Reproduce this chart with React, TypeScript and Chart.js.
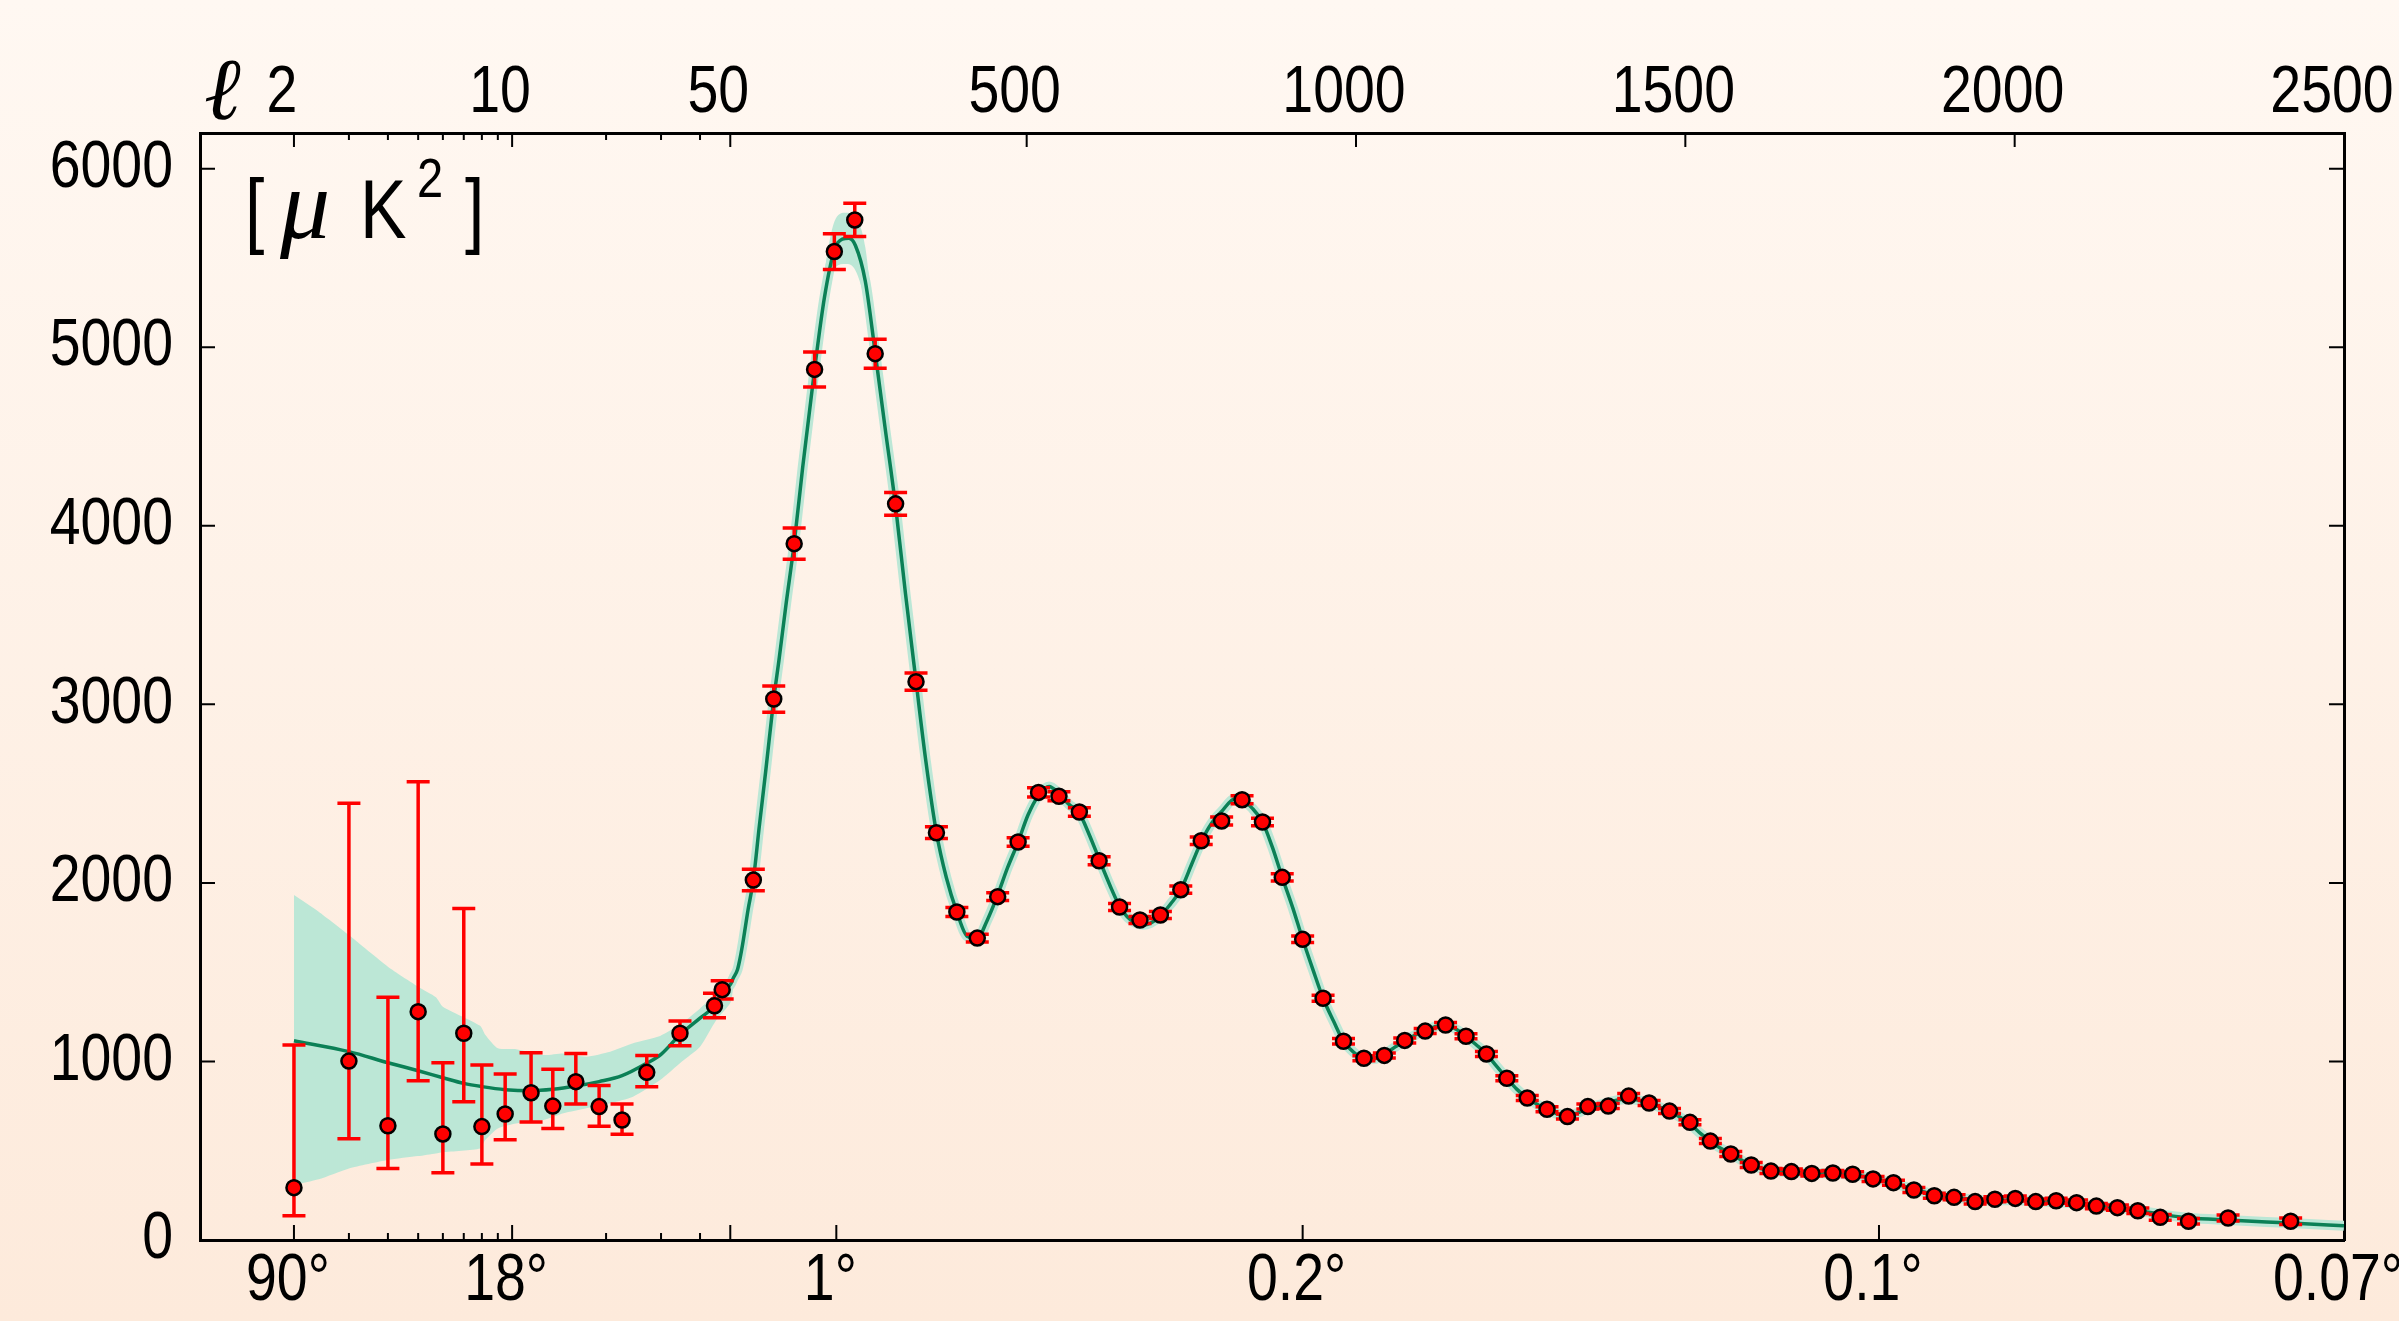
import React, { useEffect, useRef } from "react";
import { Chart, registerables } from "chart.js";

Chart.register(...registerables);

// ---------- axis mapping: log10 for ℓ ≤ 50, linear beyond ----------
const LIN_K = 0.0021103;
const u = (l: number) => (l <= 50 ? Math.log10(l) : Math.log10(50) + (l - 50) * LIN_K);
const ELL_MIN = 1;
const ELL_MAX = 2500;
const Y_MIN = 0;
const Y_MAX = 6200;

// ---------- tick definitions ----------
const topLabelEll = [2, 10, 50, 500, 1000, 1500, 2000, 2500];
const topLabels = ["2", "10", "50", "500", "1000", "1500", "2000", "2500"];
const topMajorEll = [2, 10, 50, 500, 1000, 1500, 2000];
const minorEll = [3, 4, 5, 6, 7, 8, 9, 20, 30, 40];
const bottomLabelEll = [2, 10, 211, 919, 1794, 2500];
const bottomLabels = ["90°", "18°", "1°", "0.2°", "0.1°", "0.07°"];
const bottomMajorEll = [2, 10, 50, 211, 919, 1794];
const yTicks = [0, 1000, 2000, 3000, 4000, 5000, 6000];

// ---------- measured band powers ----------
const dataEll = [
  2, 3, 4, 5, 6, 7, 8, 9.5, 11.5, 13.5, 16, 19, 22.5, 27, 34.5, 44.5, 47.1,
  85, 116, 147, 178, 208, 239, 270, 301, 332, 363, 394, 425, 456, 487, 518,
  549, 580, 610, 641, 672, 703, 734, 765, 796, 827, 858, 888, 919, 950, 981,
  1012, 1043, 1074, 1105, 1136, 1167, 1198, 1229, 1260, 1290, 1321, 1352,
  1383, 1414, 1445, 1476, 1507, 1538, 1569, 1600, 1630, 1661, 1692, 1724,
  1754, 1785, 1816, 1847, 1878, 1908, 1940, 1970, 2001, 2032, 2063, 2094,
  2124, 2156, 2187, 2221, 2264, 2324, 2419,
];
const dataD = [
  293, 1002, 640, 1279, 594, 1158, 635, 706, 825, 750, 887, 747, 672, 939,
  1158, 1312, 1402, 2016, 3030, 3900, 4876, 5536, 5713, 4964, 4123, 3127,
  2281, 1837, 1691, 1923, 2229, 2507, 2485, 2397, 2124, 1865, 1792, 1820,
  1962, 2236, 2347, 2466, 2341, 2031, 1684, 1354, 1113, 1018, 1034, 1118,
  1170, 1204, 1141, 1042, 906, 795, 732, 691, 747, 750, 806, 767, 722, 659,
  554, 482, 420, 386, 383, 373, 375, 368, 342, 321, 280, 248, 239, 215, 228,
  233, 215, 220, 209, 190, 181, 164, 127, 105, 123, 105,
];
const errLow = [
  157, 435, 239, 387, 217, 383, 209, 144, 164, 125, 125, 110, 80, 80, 70, 67,
  52, 60, 74, 88, 98, 101, 93, 81, 64, 48, 33, 25, 22, 22, 24, 26, 25, 24,
  22, 20, 20, 20, 20, 21, 22, 22, 21, 20, 18, 17, 15, 14, 14, 14, 14, 14, 14,
  14, 14, 14, 14, 14, 14, 14, 14, 14, 14, 14, 14, 14, 14, 14, 14, 14, 14, 14,
  14, 14, 14, 14, 14, 14, 14, 14, 14, 14, 15, 15, 15, 15, 16, 16, 17, 18,
];
const errHigh = [
  799, 1444, 719, 1288, 399, 698, 345, 224, 224, 206, 157, 119, 90, 95, 69,
  70, 50, 60, 73, 88, 97, 100, 93, 81, 64, 48, 33, 25, 22, 22, 24, 26, 25,
  24, 22, 20, 20, 20, 20, 21, 22, 22, 21, 20, 18, 17, 15, 14, 14, 14, 14, 14,
  14, 14, 14, 14, 14, 14, 14, 14, 14, 14, 14, 14, 14, 14, 14, 14, 14, 14, 14,
  14, 14, 14, 14, 14, 14, 14, 14, 14, 14, 14, 15, 15, 15, 15, 16, 16, 17, 18,
];

// ---------- best-fit model curve ----------
const modelEll = [
  2, 3, 4, 5, 6, 7, 8, 9.5, 11.5, 13.5, 16, 19, 22.5, 27, 30, 34.5, 40, 44.5,
  47, 50, 55, 61, 65, 69, 77, 85, 94, 104, 116, 124, 135, 147, 160, 178, 193,
  208, 220, 230, 240, 255, 270, 285, 301, 316, 332, 347, 363, 378, 394, 410,
  425, 440, 455, 471, 487, 502, 518, 534, 549, 564, 580, 595, 611, 626, 641,
  657, 677, 688, 703, 718, 734, 750, 765, 780, 796, 817, 827, 842, 858, 873,
  888, 904, 919, 935, 950, 966, 981, 997, 1012, 1028, 1043, 1059, 1074, 1090,
  1105, 1120, 1136, 1152, 1167, 1182, 1198, 1213, 1229, 1244, 1260, 1275,
  1290, 1306, 1321, 1337, 1352, 1368, 1383, 1399, 1414, 1430, 1445, 1460,
  1476, 1491, 1507, 1522, 1538, 1553, 1569, 1584, 1600, 1615, 1630, 1646,
  1661, 1692, 1723, 1754, 1785, 1816, 1847, 1878, 1908, 1940, 1970, 2001,
  2032, 2063, 2094, 2124, 2156, 2187, 2220, 2264, 2323, 2419, 2500,
];
const modelD = [
  1116, 1055, 993, 948, 909, 877, 859, 842, 836, 844, 862, 887, 920, 990,
  1040, 1150, 1243, 1312, 1385, 1430, 1470, 1515, 1580, 1662, 1850, 2016,
  2315, 2632, 3030, 3250, 3570, 3900, 4330, 4876, 5280, 5545, 5605, 5610,
  5570, 5370, 4970, 4550, 4110, 3620, 3130, 2680, 2281, 2030, 1837, 1700,
  1690, 1790, 1923, 2085, 2229, 2380, 2490, 2540, 2500, 2440, 2390, 2270,
  2124, 1990, 1870, 1795, 1765, 1775, 1815, 1880, 1962, 2100, 2230, 2330,
  2400, 2473, 2465, 2420, 2341, 2200, 2031, 1860, 1684, 1510, 1354, 1225,
  1113, 1050, 1018, 1015, 1040, 1080, 1118, 1148, 1172, 1195, 1204, 1180,
  1141, 1095, 1042, 975, 906, 845, 795, 760, 732, 705, 700, 712, 740, 755,
  770, 785, 790, 782, 767, 745, 722, 690, 650, 600, 554, 515, 482, 450, 420,
  400, 388, 382, 380, 375, 372, 365, 345, 318, 285, 255, 238, 226, 222, 222,
  218, 212, 205, 192, 180, 165, 145, 125, 112, 95, 80,
];

// ---------- cosmic-variance band ----------
const lowBandEll = [2, 2.4, 3, 4, 5, 5.7, 6, 7.9, 8.2, 9, 10.3, 12.6, 14.6, 17.3, 20.6, 24.4, 29.8, 35, 40, 45, 50, 55, 61];
const lowBandUpper = [1932, 1839, 1708, 1531, 1419, 1360, 1307, 1200, 1150, 1074, 1068, 1036, 1045, 1027, 1055, 1102, 1143, 1215, 1297, 1380, 1475, 1505, 1535];
const lowBandLower = [308, 340, 401, 448, 470, 485, 492, 513, 560, 625, 653, 672, 710, 738, 766, 803, 896, 1000, 1083, 1230, 1327, 1420, 1495];
const peakBandEll = [180, 195, 210, 225, 240, 255, 270];
const peakBandUpper = [5000, 5470, 5720, 5753, 5727, 5560, 5040];
const peakBandLower = [4880, 5230, 5450, 5466, 5430, 5250, 4920];

const FONT = "'Liberation Sans Narrow', 'Liberation Sans', Arial, sans-serif";
const TEXT_SQUEEZE = 0.84; // horizontal condensing of the sans text
const RED = "#ff0000";
const GREEN = "#0b8056";
const TEAL = "#bce7d6";

const pts = (xs: number[], ys: number[]) => xs.map((l, i) => ({ x: u(l), y: ys[i] }));

// condensed text rendering (the reference uses a narrow sans face)
const condensePlugin = {
  id: "condense",
  beforeDraw(chart: any) {
    const ctx = chart.ctx;
    if (ctx.__origFill) return;
    const orig = ctx.fillText;
    ctx.__origFill = orig;
    ctx.fillText = function (t: string, x: number, y: number, m?: number) {
      this.save();
      this.translate(x, y);
      this.scale(TEXT_SQUEEZE, 1);
      if (m === undefined) orig.call(this, t, 0, 0);
      else orig.call(this, t, 0, 0, m / TEXT_SQUEEZE);
      this.restore();
    };
  },
};

const errorBarPlugin = {
  id: "errorBars",
  beforeDatasetDraw(chart: any, args: any) {
    if (args.index !== 0) return;
    const { ctx, scales } = chart;
    const xs = scales.x;
    const ys = scales.y;
    ctx.save();
    ctx.strokeStyle = RED;
    ctx.lineWidth = 3.5;
    for (let i = 0; i < dataEll.length; i++) {
      const px = xs.getPixelForValue(u(dataEll[i]));
      const yt = ys.getPixelForValue(dataD[i] + errHigh[i]);
      const yb = ys.getPixelForValue(dataD[i] - errLow[i]);
      ctx.beginPath();
      ctx.moveTo(px, yt);
      ctx.lineTo(px, yb);
      ctx.moveTo(px - 11.5, yt);
      ctx.lineTo(px + 11.5, yt);
      ctx.moveTo(px - 11.5, yb);
      ctx.lineTo(px + 11.5, yb);
      ctx.stroke();
    }
    ctx.restore();
  },
};

const decorPlugin = {
  id: "decor",
  afterDraw(chart: any) {
    const { ctx, chartArea: a, scales } = chart;
    const xs = scales.x;
    const ys = scales.y;
    ctx.save();
    ctx.strokeStyle = "#000";
    ctx.lineWidth = 2;
    ctx.beginPath();
    for (const l of topMajorEll) {
      const px = xs.getPixelForValue(u(l));
      ctx.moveTo(px, a.top);
      ctx.lineTo(px, a.top + 14);
    }
    for (const l of minorEll) {
      const px = xs.getPixelForValue(u(l));
      ctx.moveTo(px, a.top);
      ctx.lineTo(px, a.top + 7);
      ctx.moveTo(px, a.bottom);
      ctx.lineTo(px, a.bottom - 7);
    }
    for (const l of bottomMajorEll) {
      const px = xs.getPixelForValue(u(l));
      ctx.moveTo(px, a.bottom);
      ctx.lineTo(px, a.bottom - 15);
    }
    for (const v of yTicks) {
      const py = ys.getPixelForValue(v);
      ctx.moveTo(a.left, py);
      ctx.lineTo(a.left + 15, py);
      ctx.moveTo(a.right, py);
      ctx.lineTo(a.right - 15, py);
    }
    ctx.stroke();

    // ℓ symbol and unit label
    const plain = (t: string, x: number, y: number) =>
      (ctx.__origFill ? ctx.__origFill : ctx.fillText).call(ctx, t, x, y);
    ctx.fillStyle = "#000";
    ctx.textBaseline = "alphabetic";
    ctx.textAlign = "left";
    ctx.font = "italic 88px 'Liberation Serif', 'DejaVu Serif', serif";
    plain("ℓ", 204, 119);
    ctx.font = `83px ${FONT}`;
    ctx.fillText("[", 245, 238);
    ctx.font = "italic 100px 'Liberation Serif', 'DejaVu Serif', serif";
    plain("μ", 280, 238);
    ctx.font = `83px ${FONT}`;
    ctx.fillText("K", 360, 238);
    ctx.font = `56px ${FONT}`;
    ctx.fillText("2", 417, 197);
    ctx.font = `83px ${FONT}`;
    ctx.fillText("]", 465, 238);
    ctx.restore();
  },
};

export default function App() {
  const ref = useRef<HTMLCanvasElement | null>(null);

  useEffect(() => {
    if (!ref.current) return;
    const tickFont = { family: FONT, size: 66 };
    const chart = new Chart(ref.current, {
      type: "line",
      data: {
        datasets: [
          {
            label: "data",
            data: pts(dataEll, dataD),
            showLine: false,
            pointRadius: 7.5,
            pointBackgroundColor: RED,
            pointBorderColor: "#000",
            pointBorderWidth: 2.5,
            order: 0,
          },
          {
            label: "model",
            data: pts(modelEll, modelD),
            borderColor: GREEN,
            borderWidth: 3.5,
            pointRadius: 0,
            cubicInterpolationMode: "monotone",
            fill: false,
            order: 1,
          },
          {
            label: "halo",
            data: pts(modelEll, modelD),
            borderColor: TEAL,
            borderWidth: 10,
            pointRadius: 0,
            cubicInterpolationMode: "monotone",
            fill: false,
            order: 2,
          },
          {
            label: "lowUpper",
            data: pts(lowBandEll, lowBandUpper),
            borderWidth: 0,
            borderColor: "rgba(0,0,0,0)",
            backgroundColor: TEAL,
            pointRadius: 0,
            tension: 0.2,
            fill: "+1",
            order: 3,
          },
          {
            label: "lowLower",
            data: pts(lowBandEll, lowBandLower),
            borderWidth: 0,
            borderColor: "rgba(0,0,0,0)",
            pointRadius: 0,
            tension: 0.2,
            fill: false,
            order: 4,
          },
          {
            label: "peakUpper",
            data: pts(peakBandEll, peakBandUpper),
            borderWidth: 0,
            borderColor: "rgba(0,0,0,0)",
            backgroundColor: TEAL,
            pointRadius: 0,
            cubicInterpolationMode: "monotone",
            fill: "+1",
            order: 5,
          },
          {
            label: "peakLower",
            data: pts(peakBandEll, peakBandLower),
            borderWidth: 0,
            borderColor: "rgba(0,0,0,0)",
            pointRadius: 0,
            cubicInterpolationMode: "monotone",
            fill: false,
            order: 6,
          },
        ],
      },
      options: {
        responsive: false,
        devicePixelRatio: 1,
        animation: false,
        events: [],
        layout: { padding: 0 },
        plugins: { legend: { display: false }, tooltip: { enabled: false } },
        scales: {
          x: {
            type: "linear",
            position: "bottom",
            min: u(ELL_MIN),
            max: u(ELL_MAX),
            grid: { display: false, drawTicks: false },
            border: { display: true, color: "#000", width: 3 },
            ticks: {
              autoSkip: false,
              maxRotation: 0,
              minRotation: 0,
              padding: 2,
              labelOffset: -6,
              color: "#000",
              font: tickFont,
              callback: (_v: any, i: number) => bottomLabels[i],
            },
            afterBuildTicks: (s: any) => {
              s.ticks = bottomLabelEll.map((l) => ({ value: u(l) }));
            },
            afterFit: (s: any) => {
              s.height = 81;
              s.paddingLeft = 0;
              s.paddingRight = 0;
            },
          },
          xTop: {
            type: "linear",
            position: "top",
            min: u(ELL_MIN),
            max: u(ELL_MAX),
            grid: { display: false, drawTicks: false },
            border: { display: true, color: "#000", width: 3 },
            ticks: {
              autoSkip: false,
              maxRotation: 0,
              minRotation: 0,
              padding: 0,
              labelOffset: -12,
              color: "#000",
              font: tickFont,
              callback: (_v: any, i: number) => topLabels[i],
            },
            afterBuildTicks: (s: any) => {
              s.ticks = topLabelEll.map((l) => ({ value: u(l) }));
            },
            afterFit: (s: any) => {
              s.height = 133;
              s.paddingLeft = 0;
              s.paddingRight = 0;
            },
          },
          y: {
            type: "linear",
            position: "left",
            min: Y_MIN,
            max: Y_MAX,
            grid: { display: false, drawTicks: false },
            border: { display: true, color: "#000", width: 3 },
            ticks: {
              padding: 27,
              color: "#000",
              font: tickFont,
              callback: (v: any) => String(v),
            },
            afterBuildTicks: (s: any) => {
              s.ticks = yTicks.map((v) => ({ value: v }));
            },
            afterFit: (s: any) => {
              s.width = 200;
              s.paddingTop = 0;
              s.paddingBottom = 0;
            },
          },
          yRight: {
            type: "linear",
            position: "right",
            min: Y_MIN,
            max: Y_MAX,
            grid: { display: false, drawTicks: false },
            border: { display: true, color: "#000", width: 3 },
            ticks: { display: false },
            afterFit: (s: any) => {
              s.width = 55;
              s.paddingTop = 0;
              s.paddingBottom = 0;
            },
          },
        },
      } as any,
      plugins: [condensePlugin, errorBarPlugin, decorPlugin],
    });
    return () => chart.destroy();
  }, []);

  return (
    <div
      style={{
        position: "fixed",
        left: 0,
        top: 0,
        width: 2399,
        height: 1321,
        background: "linear-gradient(to bottom, #fff8f2 0%, #fdeadb 100%)",
      }}
    >
      <canvas ref={ref} width={2399} height={1321} style={{ display: "block", width: 2399, height: 1321 }} />
    </div>
  );
}
